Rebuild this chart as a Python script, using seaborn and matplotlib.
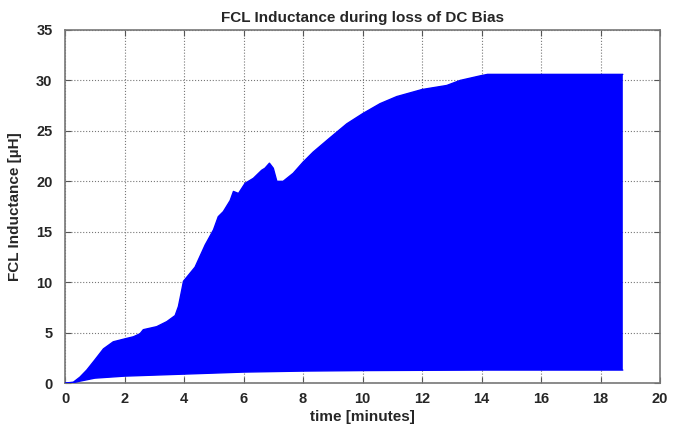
import numpy as np
import matplotlib
matplotlib.use("Agg")
import matplotlib.pyplot as plt
import seaborn as sns

# upper envelope of the inductance band (minutes, uH)
upper_t = [0, 0.28, 0.5, 0.73, 1.0, 1.29, 1.62, 2.02, 2.3, 2.52, 2.63, 3.08,
           3.42, 3.7, 3.81, 3.92, 3.98, 4.37, 4.71, 4.99, 5.15, 5.32, 5.55,
           5.66, 5.83, 6.05, 6.33, 6.61, 6.72, 6.87, 7.0, 7.12, 7.33, 7.67,
           8.0, 8.34, 8.9, 9.47, 10.0, 10.59, 11.15, 12.0, 12.83, 13.28,
           13.95, 14.2, 18.75]
upper_v = [0, 0.1, 0.6, 1.3, 2.3, 3.4, 4.1, 4.4, 4.6, 4.9, 5.3, 5.6,
           6.1, 6.7, 7.6, 9.2, 10.1, 11.5, 13.7, 15.2, 16.5, 17.0, 18.1,
           19.0, 18.8, 19.8, 20.3, 21.1, 21.3, 21.8, 21.3, 20.0, 20.0, 20.8,
           21.9, 22.9, 24.3, 25.7, 26.7, 27.7, 28.4, 29.1, 29.5, 30.0,
           30.45, 30.6, 30.6]

# lower envelope
lower_t = [0, 0.28, 0.5, 1.0, 2.0, 3.0, 4.0, 6.0, 8.0, 10.0, 14.0, 18.75]
lower_v = [0, 0.05, 0.2, 0.5, 0.7, 0.8, 0.9, 1.1, 1.2, 1.25, 1.3, 1.3]

x_ticks = np.arange(0, 21, 2)
y_ticks = np.arange(0, 36, 5)

sns.set_style("ticks")
plt.rcParams['font.family'] = ['Liberation Sans', 'DejaVu Sans']
plt.rcParams['font.weight'] = 'bold'
plt.rcParams['xtick.direction'] = 'in'
plt.rcParams['ytick.direction'] = 'in'

fig = plt.figure(figsize=(6.85, 4.32), dpi=100)
ax = fig.add_axes([0.095, 0.113, 0.8685, 0.8176])

# band between envelopes
ax.fill(np.r_[upper_t, lower_t[::-1]], np.r_[upper_v, lower_v[::-1]],
        color='#0000ff', lw=0, zorder=2)
sns.lineplot(x=upper_t, y=upper_v, color='#0000ff', lw=1, ax=ax, zorder=3)
sns.lineplot(x=lower_t, y=lower_v, color='#0000ff', lw=1, ax=ax, zorder=3)

ax.set_xlim(0, 20)
ax.set_ylim(0, 35)
ax.set_xticks(x_ticks)
ax.set_yticks(y_ticks)
ax.tick_params(labelsize=10.5, length=4, top=True, right=True, color='#555555')
ax.tick_params(axis='y', pad=9)
ax.tick_params(axis='x', pad=6)
ax.grid(True, linestyle=':', color='#777777', lw=0.8, zorder=1)
for s in ax.spines.values():
    s.set_color('#777777')
    s.set_linewidth(1.2)

ax.set_title('FCL Inductance during loss of DC Bias', fontsize=11, fontweight='bold', pad=6)
ax.set_xlabel('time [minutes]', fontsize=11, fontweight='bold', labelpad=3)
ax.set_ylabel('FCL Inductance [\u00b5H]', fontsize=11, fontweight='bold', labelpad=10)

fig.savefig('out.png', dpi=100)
